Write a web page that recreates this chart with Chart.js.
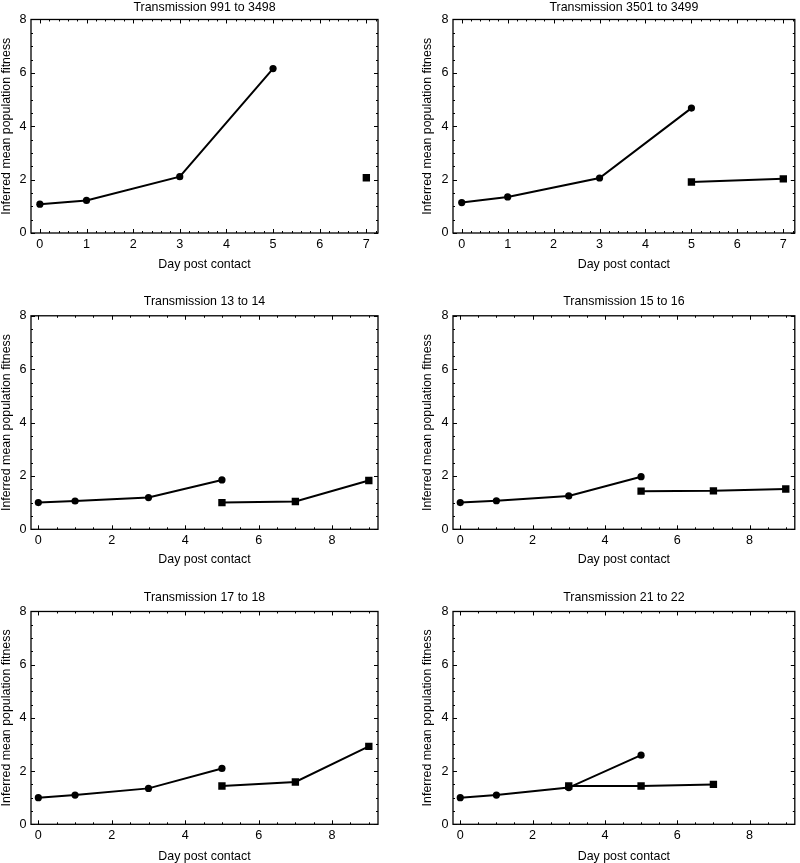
<!DOCTYPE html>
<html>
<head>
<meta charset="utf-8">
<script src="https://cdn.jsdelivr.net/npm/chart.js@4.4.0/dist/chart.umd.min.js"></script>
<style>
  body { margin: 0; background: #fff; }
  #wrap { position: relative; width: 800px; height: 863px; }
  canvas { position: absolute; }
</style>
</head>
<body>
<div id="wrap"></div>
<script>
// Data
const panelTitles = [
    "Transmission 991 to 3498", "Transmission 3501 to 3499",
    "Transmission 13 to 14", "Transmission 15 to 16",
    "Transmission 17 to 18", "Transmission 21 to 22"
];
const circleDays = [[0, 1, 3, 5], [0, 1, 3, 5], [0, 1, 3, 5], [0, 1, 3, 5], [0, 1, 3, 5], [0, 1, 3, 5]];
const circleFitness = [
    [1.08, 1.22, 2.11, 6.16],
    [1.14, 1.35, 2.06, 4.68],
    [1.00, 1.06, 1.19, 1.85],
    [1.00, 1.07, 1.25, 1.97],
    [1.00, 1.10, 1.35, 2.10],
    [1.00, 1.10, 1.38, 2.60]
];
const squareDays = [[7], [5, 7], [5, 7, 9], [5, 7, 9], [5, 7, 9], [3, 5, 7]];
const squareFitness = [
    [2.07],
    [1.91, 2.03],
    [1.00, 1.04, 1.83],
    [1.43, 1.44, 1.51],
    [1.44, 1.59, 2.93],
    [1.44, 1.44, 1.50]
];
const xTicksShort = [0, 1, 2, 3, 4, 5, 6, 7];
const xTicksLong = [0, 2, 4, 6, 8];
const yTicks = [0, 2, 4, 6, 8];

// Layout of the 3x2 grid
const rows = [
    { top: 0,   h: 290, titleTop: 0.2,  titleBottom: 4.4, xAxisH: 57,   xTitlePad: 17.8 },
    { top: 290, h: 285, titleTop: 4.1,  titleBottom: 6.8, xAxisH: 45.7, xTitlePad: 7.8 },
    { top: 575, h: 288, titleTop: 15.1, titleBottom: 6.5, xAxisH: 38.7, xTitlePad: -1.4 }
];
const cols = [
    { left: 0,   yAxisW: 31, yTitlePad: -0.9, rightPad: 22 },
    { left: 400, yAxisW: 53, yTitlePad: 20.1, rightPad: 1 }
];

const family = "'Liberation Sans', Arial, sans-serif";
const textFont = { family: family, size: 12.4 };
const tickFont = { family: family, size: 12.6 };
Chart.defaults.color = "#000";

// Frame with inward major/minor ticks on all four sides
const frameTicks = {
    id: "frameTicks",
    beforeDatasetsDraw(chart, args, opts) {
        const { ctx, chartArea: a, scales: { x, y } } = chart;
        ctx.save();
        ctx.strokeStyle = "#000";
        ctx.lineWidth = 1;
        ctx.beginPath();
        const xt = (v, len) => {
            const p = Math.round(x.getPixelForValue(v)) + 0.5;
            if (p < a.left || p > a.right) return;
            ctx.moveTo(p, a.bottom); ctx.lineTo(p, a.bottom - len);
            ctx.moveTo(p, a.top); ctx.lineTo(p, a.top + len);
        };
        const yt = (v, len) => {
            const p = Math.round(y.getPixelForValue(v)) + 0.5;
            ctx.moveTo(a.left, p); ctx.lineTo(a.left + len, p);
            ctx.moveTo(a.right, p); ctx.lineTo(a.right - len, p);
        };
        for (let v = 0; v <= opts.xMax + 1e-9; v += opts.xMinor) xt(v, 2);
        opts.xMajor.forEach(v => xt(v, 4));
        for (let v = 0; v <= 8 + 1e-9; v += 0.5) yt(v, 2);
        yTicks.forEach(v => yt(v, 4));
        ctx.stroke();
        ctx.lineWidth = 1.3;
        ctx.strokeRect(a.left, a.top, a.right - a.left, a.bottom - a.top);
        ctx.restore();
    }
};

const wrap = document.getElementById("wrap");

panelTitles.forEach((title, i) => {
    const row = rows[Math.floor(i / 2)];
    const col = cols[i % 2];
    const shortAxis = i < 2;
    const xMajor = shortAxis ? xTicksShort : xTicksLong;

    const canvas = document.createElement("canvas");
    canvas.width = 400;
    canvas.height = row.h;
    canvas.style.left = col.left + "px";
    canvas.style.top = row.top + "px";
    wrap.appendChild(canvas);

    const circles = circleDays[i].map((d, k) => ({ x: d, y: circleFitness[i][k] }));
    const squares = squareDays[i].map((d, k) => ({ x: d, y: squareFitness[i][k] }));

    new Chart(canvas.getContext("2d"), {
        type: "scatter",
        data: {
            datasets: [{
                data: circles,
                showLine: true,
                borderColor: "#000",
                backgroundColor: "#000",
                borderWidth: 2,
                pointStyle: "circle",
                pointRadius: 3.6,
                pointBorderWidth: 0
            }, {
                data: squares,
                showLine: true,
                borderColor: "#000",
                backgroundColor: "#000",
                borderWidth: 2,
                pointStyle: "rect",
                pointRadius: 5.2,
                pointBorderWidth: 0
            }]
        },
        options: {
            responsive: false,
            animation: false,
            devicePixelRatio: 1,
            layout: { padding: { left: 0, right: col.rightPad, top: 0, bottom: 0 } },
            plugins: {
                legend: { display: false },
                tooltip: { enabled: false },
                title: {
                    display: true,
                    text: title,
                    fullSize: false,
                    font: { ...textFont, weight: "normal" },
                    padding: { top: row.titleTop, bottom: row.titleBottom }
                },
                frameTicks: { xMajor: xMajor, xMinor: shortAxis ? 0.2 : 0.5, xMax: shortAxis ? 7.25 : 9.25 }
            },
            scales: {
                x: {
                    type: "linear",
                    min: shortAxis ? -0.19 : -0.2,
                    max: shortAxis ? 7.25 : 9.25,
                    afterBuildTicks: s => { s.ticks = xMajor.map(v => ({ value: v })); },
                    afterFit: s => { s.height = row.xAxisH; },
                    grid: { display: false, drawTicks: false },
                    border: { display: false },
                    ticks: { font: tickFont, padding: 4, maxRotation: 0 },
                    title: { display: true, text: "Day post contact", font: textFont, padding: { top: 0, bottom: row.xTitlePad } }
                },
                y: {
                    type: "linear",
                    min: 0,
                    max: 8,
                    afterBuildTicks: s => { s.ticks = yTicks.map(v => ({ value: v })); },
                    afterFit: s => { s.width = col.yAxisW; },
                    grid: { display: false, drawTicks: false },
                    border: { display: false },
                    ticks: { font: tickFont, padding: 4.5 },
                    title: { display: true, text: "Inferred mean population fitness", font: textFont, padding: { top: col.yTitlePad, bottom: 0 } }
                }
            }
        },
        plugins: [frameTicks]
    });
});
</script>
</body>
</html>
